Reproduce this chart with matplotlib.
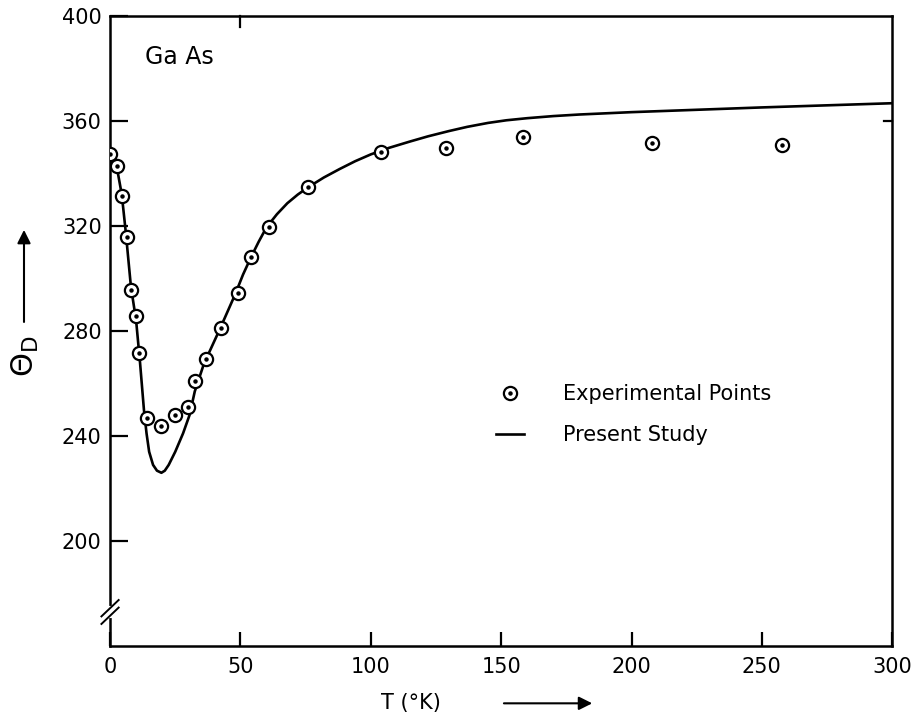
import numpy as np
import matplotlib
matplotlib.use("Agg")
import matplotlib.pyplot as plt
from matplotlib.legend_handler import HandlerTuple

# ---------------------------------------------------------------
# Data (GaAs Debye temperature vs T)
# ---------------------------------------------------------------
t_exp = [0.0, 2.8, 4.5, 6.4, 7.9, 9.9, 11.1, 14.3, 19.5, 25.1, 29.9,
         32.5, 36.7, 42.7, 49.0, 54.0, 60.8, 76.0, 103.8, 128.7, 158.3,
         208.0, 257.7]
theta_exp = [347.5, 343.0, 331.6, 315.9, 295.8, 285.9, 271.7, 247.0, 243.8,
             248.2, 251.2, 260.8, 269.2, 281.3, 294.6, 308.1, 319.5, 334.7,
             348.2, 349.9, 354.1, 351.8, 350.7]

t_fit = [0, 2.5, 4.5, 6, 8, 10, 11.5, 13, 14, 15, 16.5, 18, 19.7, 21, 22.5,
         25, 28, 30.5, 32.5, 36, 42, 48, 51, 54, 57, 60, 64, 68, 72, 76, 82,
         88, 94, 100, 107, 115, 122, 130, 137, 145, 152, 160, 170, 180, 200,
         225, 250, 275, 300]
theta_fit = [348, 343, 332, 318, 297, 284, 268, 250, 241, 234, 229, 226.8,
             226, 226.8, 229, 234, 241, 248, 257, 267.5, 280.5, 294, 301.5,
             308, 314, 319.5, 324.5, 328.7, 332, 334.8, 338.5, 341.7, 344.7,
             347.3, 349.8, 352.2, 354.2, 356.2, 357.8, 359.3, 360.3, 361.1,
             361.9, 362.5, 363.4, 364.3, 365.2, 366, 366.8]

x_ticks = [0, 50, 100, 150, 200, 250, 300]
y_ticks = [200, 240, 280, 320, 360, 400]

plt.rcParams['font.family'] = ['DejaVu Sans']

fig = plt.figure(figsize=(9.17, 7.15), dpi=100)
ax = fig.add_axes([0.12, 0.0965, 0.853, 0.881])

line, = ax.plot(t_fit, theta_fit, color='black', lw=1.9, zorder=2)
ring, = ax.plot(t_exp, theta_exp, ls='none', marker='o', ms=9.5,
                mfc='white', mec='black', mew=1.6, zorder=3)
dot, = ax.plot(t_exp, theta_exp, ls='none', marker='o', ms=2.2,
               mfc='black', mec='black', zorder=4)

ax.set_xlim(0, 300)
ax.set_ylim(160, 400)
ax.set_xticks(x_ticks)
ax.set_yticks(y_ticks)
ax.tick_params(direction='in', length=13, width=1.6, labelsize=15, pad=6)
ax.tick_params(axis='x', length=10, pad=8)
for s in ax.spines.values():
    s.set_linewidth(1.8)

# lone ticks visible on top and right edges
ax.plot([50, 50], [400, 396], color='black', lw=1.6, clip_on=False)
ax.plot([300, 297], [360, 360], color='black', lw=1.6, clip_on=False)

# axis break marks on the y axis
ax.plot([0, 0], [0.047, 0.061], color='white', lw=3, transform=ax.transAxes,
        clip_on=False, zorder=5)
for dy in (0.0, 0.012):
    ax.plot([-0.011, 0.011], [0.035 + dy, 0.061 + dy], color='black', lw=1.4,
            transform=ax.transAxes, clip_on=False, zorder=6)

ax.text(0.045, 0.935, 'Ga As', transform=ax.transAxes, fontsize=17,
        va='center', ha='left')

ax.set_xlabel('T (°K)', fontsize=15)
ax.xaxis.set_label_coords(0.385, -0.075)
ax.annotate('', xy=(0.62, -0.091), xytext=(0.50, -0.091),
            xycoords='axes fraction',
            arrowprops=dict(arrowstyle='-|>', color='black', lw=1.5,
                            mutation_scale=20))

ax.text(-0.108, 0.46, r'$\mathrm{\Theta}_\mathrm{D}$', transform=ax.transAxes,
        fontsize=22, rotation=90, ha='center', va='center')
ax.annotate('', xy=(-0.110, 0.665), xytext=(-0.110, 0.51),
            xycoords='axes fraction',
            arrowprops=dict(arrowstyle='-|>', color='black', lw=1.5,
                            mutation_scale=20))

ax.legend([(ring, dot), line], ['Experimental Points', 'Present Study'],
          handler_map={tuple: HandlerTuple(ndivide=1)},
          loc='upper left', bbox_to_anchor=(0.47, 0.445), frameon=False,
          fontsize=15, handlelength=1.3, handletextpad=1.9, labelspacing=1.0)

fig.savefig('out.png', dpi=100)
